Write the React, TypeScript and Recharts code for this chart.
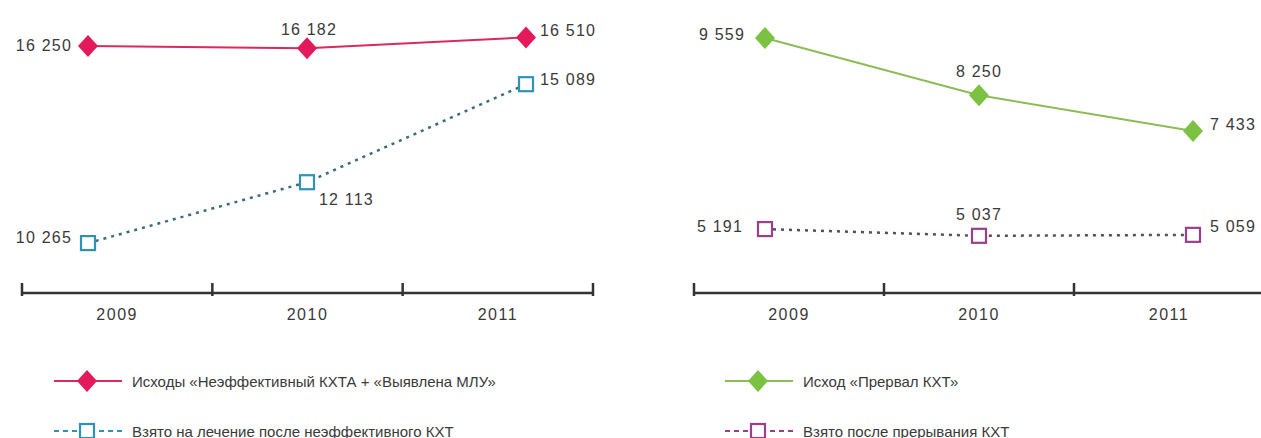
import React from 'react';
import { LineChart, Line, XAxis, YAxis, Legend, LabelList } from 'recharts';

const years = ['2009', '2010', '2011'];
const mluOutcomes = [16250, 16182, 16510];
const treatedAfterFailure = [10265, 12113, 15089];
const interruptedOutcomes = [9559, 8250, 7433];
const treatedAfterInterruption = [5191, 5037, 5059];

const FONT = "'Liberation Sans Narrow', 'Arial Narrow', 'Liberation Sans', Arial, sans-serif";
const TEXT = '#3a3a3a';
const AXIS = '#333';

const fmt = (v: number) => String(v).replace(/\B(?=(\d{3})+(?!\d))/g, ' ');

type Place = { dx: number; dy: number; anchor: 'start' | 'middle' | 'end' };

const Diamond = (props: any) => {
  const { cx, cy, fill, index } = props;
  return (
    <path
      key={`d-${index}`}
      d={`M${cx},${cy - 11} L${cx + 10},${cy} L${cx},${cy + 11} L${cx - 10},${cy} Z`}
      fill={fill}
    />
  );
};

const Square = (props: any) => {
  const { cx, cy, stroke, index } = props;
  return (
    <rect
      key={`s-${index}`}
      x={cx - 7}
      y={cy - 7}
      width={14}
      height={14}
      fill="#fff"
      stroke={stroke}
      strokeWidth={2.2}
    />
  );
};

const valueLabel = (places: Place[]) => (props: any) => {
  const { x, y, value, index } = props;
  const p = places[index];
  return (
    <text
      x={x + p.dx}
      y={y + p.dy + 5}
      textAnchor={p.anchor}
      fontFamily={FONT}
      fontSize={16}
      letterSpacing={1.2}
      fill={TEXT}
    >
      {fmt(value)}
    </text>
  );
};

// tick marks sit on the band edges, year labels in the band middles
const FrameTick = (props: any) => {
  const { x, y, payload } = props;
  const v = payload.value;
  if (Number.isInteger(v)) {
    return <line x1={x} x2={x} y1={y - 10} y2={y + 3} stroke={AXIS} strokeWidth={2.5} />;
  }
  return (
    <text x={x} y={y + 27} textAnchor="middle" fontFamily={FONT} fontSize={16} letterSpacing={1.5} fill={TEXT}>
      {years[Math.floor(v)]}
    </text>
  );
};

type SeriesCfg = {
  name: string;
  values: number[];
  color: string;
  lineColor: string;
  kind: 'diamond' | 'square';
  places: Place[];
};

const LegendBox = ({ series }: { series: SeriesCfg[] }) => (
  <div>
    {series.map((s) => (
      <div key={s.name} style={{ display: 'flex', alignItems: 'center', height: 50 }}>
        <svg width={72} height={24} style={{ marginRight: 8 }}>
          {s.kind === 'diamond' ? (
            <>
              <line x1={2} x2={70} y1={12} y2={12} stroke={s.lineColor} strokeWidth={2} />
              <path d="M35,1 L45,12 L35,23 L25,12 Z" fill={s.color} />
            </>
          ) : (
            <>
              <line x1={2} x2={70} y1={12} y2={12} stroke={s.color} strokeWidth={2} strokeDasharray="5 4" />
              <rect x={28} y={5} width={14} height={14} fill="#fff" stroke={s.color} strokeWidth={2.2} />
            </>
          )}
        </svg>
        <span style={{ fontFamily: FONT, fontSize: 15, color: TEXT, whiteSpace: 'nowrap' }}>
          {s.name}
        </span>
      </div>
    ))}
  </div>
);

type PanelProps = {
  series: SeriesCfg[];
  domain: [number, number];
  width: number;
  margin: { left: number; right: number };
  padding: { left: number; right: number };
  legendLeft: number;
};

const Panel = ({ series, domain, width, margin, padding, legendLeft }: PanelProps) => {
  const data = years.map((year, i) => {
    const row: any = { year };
    series.forEach((s, k) => {
      row[`s${k}`] = s.values[i];
    });
    return row;
  });
  return (
    <LineChart
      width={width}
      height={438}
      data={data}
      margin={{ top: 13, right: margin.right, bottom: 115, left: margin.left }}
      style={{ overflow: 'visible' }}
    >
      <XAxis xAxisId="pts" dataKey="year" hide padding={padding} />
      <XAxis
        xAxisId="frame"
        type="number"
        dataKey={(d: any) => years.indexOf(d.year) + 0.5}
        domain={[0, 3]}
        ticks={[0, 0.5, 1, 1.5, 2, 2.5, 3]}
        interval={0}
        allowDataOverflow
        height={30}
        tickSize={0}
        tickMargin={0}
        tickLine={false}
        tick={<FrameTick />}
        axisLine={{ stroke: AXIS, strokeWidth: 2.5 }}
      />
      <YAxis hide domain={domain} allowDataOverflow />
      {series.map((s, k) => (
        <Line
          key={s.name}
          xAxisId="pts"
          dataKey={`s${k}`}
          name={s.name}
          stroke={s.lineColor}
          strokeWidth={s.kind === 'diamond' ? 2 : 2.5}
          strokeDasharray={s.kind === 'square' ? '3 5' : undefined}
          dot={s.kind === 'diamond' ? <Diamond fill={s.color} /> : <Square stroke={s.color} />}
          activeDot={false}
          isAnimationActive={false}
        >
          <LabelList dataKey={`s${k}`} content={valueLabel(s.places)} />
        </Line>
      ))}
      <Legend
        layout="horizontal"
        align="center"
        verticalAlign="middle"
        wrapperStyle={{ left: legendLeft, top: 356, width: 'auto' }}
        content={() => <LegendBox series={series} />}
      />
    </LineChart>
  );
};

const leftSeries: SeriesCfg[] = [
  {
    name: 'Исходы «Неэффективный КХТА + «Выявлена МЛУ»',
    values: mluOutcomes,
    color: '#e2195b',
    lineColor: '#d92a60',
    kind: 'diamond',
    places: [
      { dx: -16, dy: 0, anchor: 'end' },
      { dx: 2, dy: -18, anchor: 'middle' },
      { dx: 14, dy: -6, anchor: 'start' },
    ],
  },
  {
    name: 'Взято на лечение после неэффективного КХТ',
    values: treatedAfterFailure,
    color: '#2e93b5',
    lineColor: '#3b6b7e',
    kind: 'square',
    places: [
      { dx: -16, dy: -5, anchor: 'end' },
      { dx: 12, dy: 18, anchor: 'start' },
      { dx: 14, dy: -4, anchor: 'start' },
    ],
  },
];

const rightSeries: SeriesCfg[] = [
  {
    name: 'Исход «Прервал КХТ»',
    values: interruptedOutcomes,
    color: '#7cc242',
    lineColor: '#8dbb55',
    kind: 'diamond',
    places: [
      { dx: -20, dy: -3, anchor: 'end' },
      { dx: 0, dy: -23, anchor: 'middle' },
      { dx: 17, dy: -6, anchor: 'start' },
    ],
  },
  {
    name: 'Взято после прерывания КХТ',
    values: treatedAfterInterruption,
    color: '#9b3f8a',
    lineColor: '#5b4a5e',
    kind: 'square',
    places: [
      { dx: -22, dy: -2, anchor: 'end' },
      { dx: 0, dy: -21, anchor: 'middle' },
      { dx: 17, dy: -8, anchor: 'start' },
    ],
  },
];

export default function App() {
  return (
    <div
      style={{
        position: 'absolute',
        left: 0,
        top: 0,
        width: 1261,
        height: 438,
        overflow: 'hidden',
        background: '#fff',
      }}
    >
      <div style={{ position: 'absolute', left: 0, top: 0 }}>
        <Panel
          series={leftSeries}
          domain={[8750, 17250]}
          width={620}
          margin={{ left: 22, right: 27 }}
          padding={{ left: 66, right: 67 }}
          legendLeft={52}
        />
      </div>
      <div style={{ position: 'absolute', left: 640, top: 0 }}>
        <Panel
          series={rightSeries}
          domain={[3730, 10130]}
          width={640}
          margin={{ left: 54, right: 16 }}
          padding={{ left: 71, right: 71 }}
          legendLeft={83}
        />
      </div>
    </div>
  );
}
